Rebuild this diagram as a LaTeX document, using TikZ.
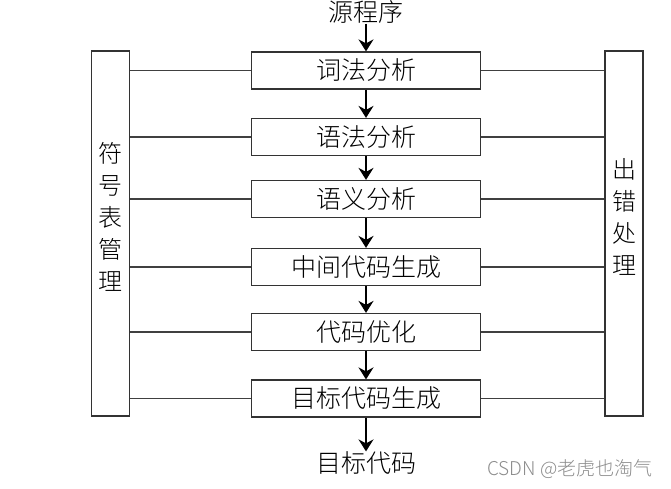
\documentclass[tikz,border=0pt]{standalone}
\usepackage{fontspec}
\setmainfont{Noto Sans CJK SC Light}
\usetikzlibrary{arrows.meta}
\begin{document}
\begin{tikzpicture}[x=1pt,y=-1pt,
  phase/.style={draw=black!80,line width=1.2pt,minimum width=229pt,minimum height=37pt,inner sep=0pt,font=\fontsize{25}{28}\selectfont},
  side/.style={draw=black!80,line width=1.2pt,minimum width=38pt,minimum height=365pt,inner sep=0pt},
  vtext/.style={align=center,inner sep=0pt,font=\fontsize{24}{32}\selectfont},
  flow/.style={line width=2.5pt,-{Stealth[length=12pt,width=15pt,inset=4pt]}},
  link/.style={line width=1.3pt,black!75}]
\useasboundingbox (0,0) rectangle (671,489);

% main column
\node[inner sep=0pt,font=\fontsize{25}{28}\selectfont] (src) at (366,12) {源程序};
\node[phase] (lex) at (366,70.5) {词法分析};
\node[phase] (syn) at (366,137) {语法分析};
\node[phase] (sem) at (366,199) {语义分析};
\node[phase] (mid) at (366,267) {中间代码生成};
\node[phase] (opt) at (366,332) {代码优化};
\node[phase] (gen) at (366,398.5) {目标代码生成};
\node[inner sep=0pt,font=\fontsize{25}{28}\selectfont] (dst) at (366,463) {目标代码};

% side boxes
\node[side] (sym) at (110.5,233.5) {};
\node[vtext] (symtext) at (110.5,217) {符\\号\\表\\管\\理};
\node[side] (err) at (624,233.5) {};
\node[vtext] (errtext) at (624,217) {出\\错\\处\\理};

% arrows
\draw[flow] (src) -- (lex);
\draw[flow] (lex) -- (syn);
\draw[flow] (syn) -- (sem);
\draw[flow] (sem) -- (mid);
\draw[flow] (mid) -- (opt);
\draw[flow] (opt) -- (gen);
\draw[flow] (gen) -- (dst);

% links to the side boxes
\foreach \p in {lex,syn,sem,mid,opt,gen}{
  \draw[link] (\p.west) -- (\p.west -| sym.east);
  \draw[link] (\p.east) -- (\p.east -| err.west);
}

\node[text=black!45,font=\fontsize{19}{22}\selectfont] (mark) at (570,469) {CSDN @老虎也淘气};
\end{tikzpicture}
\end{document}
